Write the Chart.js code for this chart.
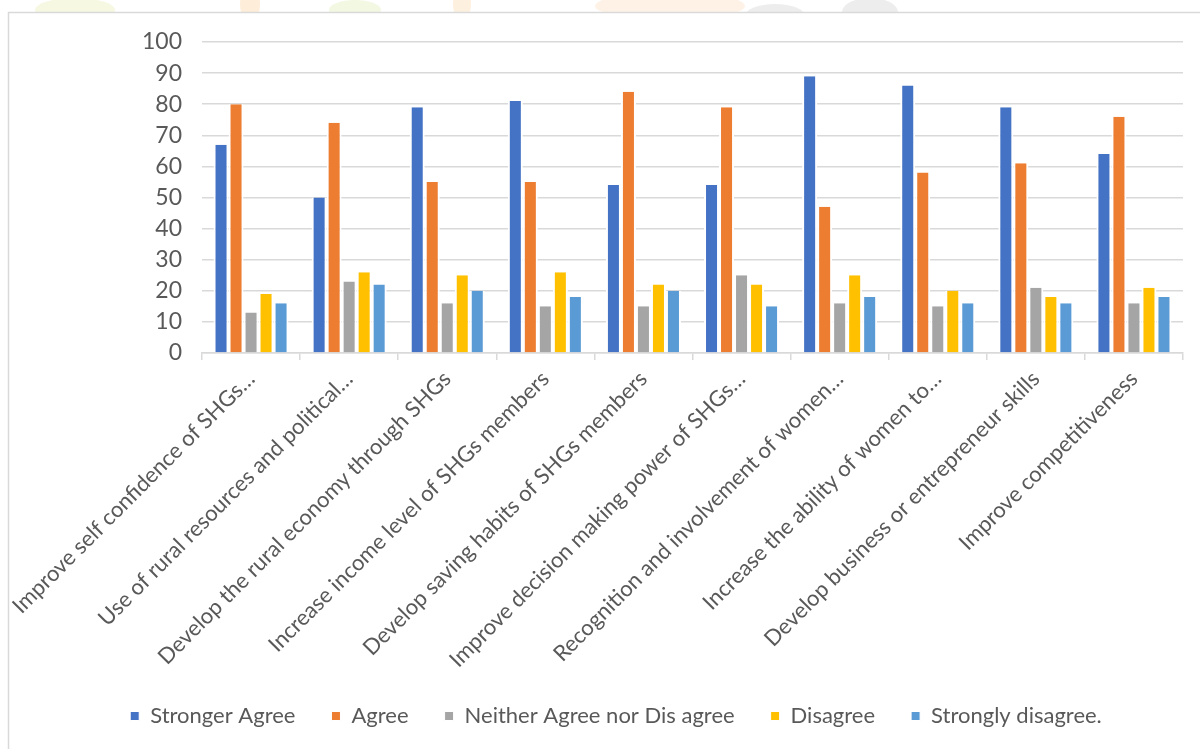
<!DOCTYPE html>
<html>
<head>
<meta charset="utf-8">
<script src="https://cdn.jsdelivr.net/npm/chart.js@4/dist/chart.umd.min.js"></script>
<style>
  html, body { margin: 0; padding: 0; background: #ffffff; }
  #wrap { position: relative; width: 1200px; height: 749px; }
</style>
</head>
<body>
<div id="wrap"><canvas id="c" width="1200" height="749"></canvas></div>
<script>
// Survey statements (x categories)
const categories = [
  "Improve self confidence of SHGs\u2026",
  "Use of rural resources and political\u2026",
  "Develop the rural economy through SHGs",
  "Increase income level of SHGs members",
  "Develop saving habits of SHGs members",
  "Improve decision making power of SHGs\u2026",
  "Recognition and involvement of women\u2026",
  "Increase the ability of women to\u2026",
  "Develop business or entrepreneur skills",
  "Improve competitiveness"
];

// Response counts per statement
const strongerAgree   = [67, 50, 79, 81, 54, 54, 89, 86, 79, 64];
const agree           = [80, 74, 55, 55, 84, 79, 47, 58, 61, 76];
const neitherAgree    = [13, 23, 16, 15, 15, 25, 16, 15, 21, 16];
const disagree        = [19, 26, 25, 26, 22, 22, 25, 20, 18, 21];
const stronglyDisagree= [16, 22, 20, 18, 20, 15, 18, 16, 16, 18];

const seriesNames = ["Stronger Agree", "Agree", "Neither Agree nor Dis agree", "Disagree", "Strongly disagree."];
const seriesColors = ["#4472C4", "#ED7D31", "#A5A5A5", "#FFC000", "#5B9BD5"];

// Value axis
const yMin = 0, yMax = 100, yStep = 10;

const FONT = "Lato, 'Open Sans', sans-serif";
const TEXT = "#595959";
const GRID = "#d9d9d9";

const seriesData = [strongerAgree, agree, neitherAgree, disagree, stronglyDisagree];

// Frame around the chart plus the faint artwork peeking above it
const framePlugin = {
  id: 'frame',
  beforeDraw(chart) {
    const ctx = chart.ctx;
    ctx.save();
    ctx.fillStyle = '#ffffff';
    ctx.fillRect(0, 0, chart.width, chart.height);
    // faint artwork strip above the frame
    ctx.beginPath();
    ctx.rect(0, 0, chart.width, 12);
    ctx.clip();
    const blobs = [
      [75, 10, 40, 12, 'rgba(236,240,190,0.45)'],
      [250, 4, 10, 18, 'rgba(252,220,180,0.5)'],
      [355, 10, 26, 10, 'rgba(230,242,195,0.5)'],
      [462, 4, 9, 16, 'rgba(252,222,185,0.45)'],
      [670, 6, 75, 14, 'rgba(253,236,220,0.7)'],
      [775, 16, 30, 12, 'rgba(232,232,232,0.8)'],
      [870, 12, 28, 14, 'rgba(232,232,232,0.8)']
    ];
    for (const [x, y, rx, ry, col] of blobs) {
      ctx.fillStyle = col;
      ctx.beginPath();
      ctx.ellipse(x, y, rx, ry, 0, 0, Math.PI * 2);
      ctx.fill();
    }
    ctx.restore();
    ctx.save();
    ctx.strokeStyle = GRID;
    ctx.lineWidth = 1.5;
    ctx.beginPath();
    ctx.moveTo(8.5, chart.height + 2);
    ctx.lineTo(8.5, 12.5);
    ctx.lineTo(chart.width + 2, 12.5);
    ctx.stroke();
    ctx.restore();
  }
};

const datasets = seriesNames.map((name, i) => ({
  label: name,
  data: seriesData[i],
  backgroundColor: seriesColors[i],
  borderColor: '#ffffff',
  borderWidth: { left: 2, right: 2, top: 0, bottom: 0 },
  borderSkipped: 'start',
  barPercentage: 1.0,
  categoryPercentage: 0.765
}));

new Chart(document.getElementById('c'), {
  type: 'bar',
  data: { labels: categories, datasets },
  plugins: [framePlugin],
  options: {
    responsive: false,
    animation: false,
    devicePixelRatio: 1,
    layout: { padding: { top: 42, right: 17, bottom: 12, left: 49 } },
    plugins: {
      tooltip: { enabled: false },
      legend: {
        position: 'bottom',
        labels: {
          color: TEXT,
          font: { family: FONT, size: 22 },
          boxWidth: 9,
          boxHeight: 9,
          padding: 36,
          useBorderRadius: false
        }
      }
    },
    scales: {
      x: {
        grid: {
          display: true,
          drawOnChartArea: false,
          drawTicks: true,
          tickLength: 7,
          color: GRID,
          lineWidth: 1.5,
          offset: true
        },
        border: { display: true, color: GRID, width: 1.5 },
        ticks: {
          color: TEXT,
          font: { family: FONT, size: 22 },
          autoSkip: false,
          maxRotation: 45,
          minRotation: 45,
          padding: 6
        },
        afterFit(scale) { scale.height = 316; }
      },
      y: {
        min: yMin,
        max: yMax,
        grid: { color: GRID, lineWidth: 1.5, drawTicks: false },
        border: { display: false },
        ticks: {
          stepSize: yStep,
          color: TEXT,
          font: { family: FONT, size: 23 },
          padding: 20
        },
        afterFit(scale) { scale.width = 153; }
      }
    }
  }
});
</script>
</body>
</html>
